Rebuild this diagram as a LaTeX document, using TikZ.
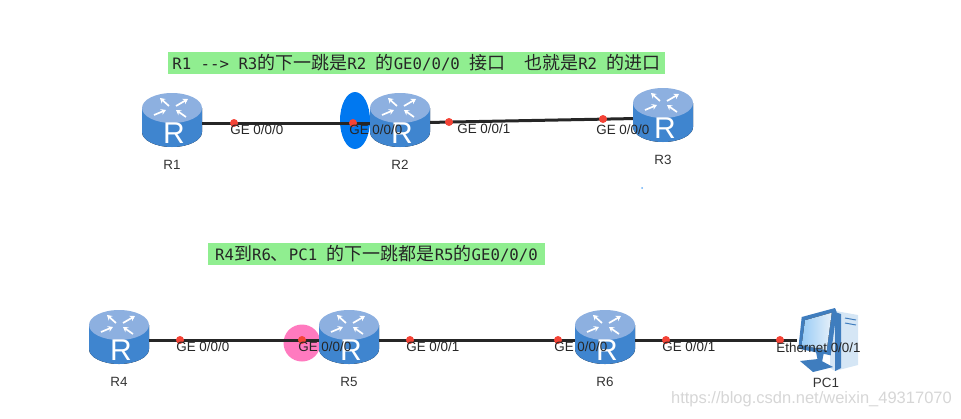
\documentclass[tikz,border=0pt]{standalone}
\usepackage{xcolor}
\usepackage{fontspec}
\setmainfont{Liberation Sans}
\setmonofont{DejaVu Sans Mono}
\newfontfamily\cjk{Noto Sans CJK SC}
\usetikzlibrary{positioning,arrows.meta,shapes.geometric}
\definecolor{barGreen}{HTML}{90EE90}
\definecolor{hopBlue}{HTML}{0078F0}
\definecolor{hopPink}{HTML}{FF7ABF}
\definecolor{portRed}{HTML}{F44336}
\definecolor{routerTop}{HTML}{8DB0E0}
\definecolor{routerSide}{HTML}{3F85CF}
\definecolor{routerMid}{HTML}{6DB6F2}
\definecolor{pcDark}{HTML}{3F7DBE}
\definecolor{pcLight}{HTML}{D5E6F5}
\newcommand{\zh}[1]{{\cjk\fontsize{18}{20}\selectfont #1}}

\begin{document}
\begin{tikzpicture}[
  x=1pt, y=-1pt,
  link/.style={line width=3pt, black!85},
  port/.style={circle, fill=portRed, minimum size=8pt, inner sep=0pt},
  portlabel/.style={font=\fontsize{13.4}{15}\selectfont, inner sep=0pt, text=black!85},
  devlabel/.style={font=\fontsize{13.4}{15}\selectfont, inner sep=0pt, text=black!80, node distance=7pt},
  notebar/.style={fill=barGreen, minimum height=22pt, inner sep=0pt, font=\ttfamily\fontsize{15.7}{16}\selectfont, text=black!85},
  routerarrow/.style={-{Stealth[length=5pt,width=6pt]}, white, line width=1.7pt},
  router/.pic={
    \node[minimum width=60pt, minimum height=60pt, inner sep=0pt] (-box) at (0,0) {};
    \fill[left color=routerSide, middle color=routerMid, right color=routerSide]
      (-30,-15) -- (-30,9) arc[start angle=180, end angle=0, x radius=30, y radius=15] -- (30,-15) -- cycle;
    \fill[routerTop] (0,-15) ellipse[x radius=30, y radius=15];
    \draw[routerarrow] (-3,-17) -- (-12,-25);
    \draw[routerarrow] (4,-17) -- (16,-24);
    \draw[routerarrow] (-18,-8) -- (-6,-13);
    \draw[routerarrow] (14,-6) -- (4,-13);
    \node[white, inner sep=0pt, font=\fontsize{30}{30}\selectfont] (-mark) at (2,10) {R};
  },
  pcicon/.pic={
    \node[minimum width=62pt, minimum height=64pt, inner sep=0pt] (-box) at (0,0) {};
    \fill[pcLight] (2,-30) -- (30,-25) -- (30,25) -- (7,31) -- (2,28) -- cycle;
    \fill[pcDark] (7,-28) -- (13,-26) -- (13,28) -- (7,31) -- cycle;
    \draw[pcDark, line width=1pt] (17,-22) -- (28,-20);
    \draw[pcDark, line width=1pt] (17,-17) -- (28,-15);
    \fill[pcDark] (-28,21) -- (-10,19) -- (5,27) -- (-15,32) -- cycle;
    \fill[pcDark] (-12,12) -- (-4,12) -- (-6,22) -- (-10,22) -- cycle;
    \fill[pcDark] (-26.3,-23) -- (7,-32) -- (8.7,-28) -- (2.7,15.3) -- (-29.7,8.7) -- cycle;
    \fill[left color=routerMid!70!white, right color=pcLight!60!white] (-23,-19.7) -- (3.7,-27.3) -- (-1.3,10.3) -- (-26.3,5.3) -- cycle;
  }
]
\useasboundingbox (0,0) rectangle (961,418);
\node[notebar, minimum width=497pt] (note1) at (416.5,63) {R1 --> R3\zh{的下一跳是}R2 \zh{的}GE0/0/0 \zh{接口}\ \ \zh{也就是}R2 \zh{的进口}};
\node[notebar, minimum width=337pt] (note2) at (376.5,254) {R4\zh{到}R6\zh{、}PC1 \zh{的下一跳都是}R5\zh{的}GE0/0/0};
\node[ellipse, fill=hopBlue, minimum width=30pt, minimum height=57pt, inner sep=0pt] (hop1) at (355,120.5) {};
\node[circle, fill=hopPink, minimum size=37pt, inner sep=0pt] (hop2) at (302,343) {};
\pic (r1) at (172,123) {router};
\pic (r2) at (400,123) {router};
\pic (r3) at (663,118) {router};
\pic (r4) at (119,340) {router};
\pic (r5) at (349,340) {router};
\pic (r6) at (605,340) {router};
\pic (pc1) at (828,340) {pcicon};
\node[devlabel, below=of r1-box] (r1name) {R1};
\node[devlabel, below=of r2-box] (r2name) {R2};
\node[devlabel, below=of r3-box] (r3name) {R3};
\node[devlabel, below=of r4-box] (r4name) {R4};
\node[devlabel, below=of r5-box] (r5name) {R5};
\node[devlabel, below=of r6-box] (r6name) {R6};
\node[devlabel, below=6pt of pc1-box, xshift=-2pt] (pc1name) {PC1};
\draw[link] (r1-box) -- (r2-box);
\draw[link] (r2-box) -- (r3-box);
\draw[link] (r4-box) -- (r5-box);
\draw[link] (r5-box) -- (r6-box);
\draw[link] (r6-box) -- (pc1-box);
\node[port] (p1) at (234,123) {};
\node[port] (p2) at (353,123) {};
\node[port] (p3) at (449,122) {};
\node[port] (p4) at (603,119) {};
\node[port] (p5) at (180,340) {};
\node[port] (p6) at (302,340) {};
\node[port] (p7) at (410,340) {};
\node[port] (p8) at (558,340) {};
\node[port] (p9) at (666,340) {};
\node[port] (p10) at (780,340) {};
\node[portlabel, right=-8pt of p1, yshift=-7pt] (l1) {GE 0/0/0};
\node[portlabel, right=-8pt of p2, yshift=-7pt] (l2) {GE 0/0/0};
\node[portlabel, right=4pt of p3, yshift=-7pt] (l3) {GE 0/0/1};
\node[portlabel, right=-11pt of p4, yshift=-11pt] (l4) {GE 0/0/0};
\node[portlabel, right=-8pt of p5, yshift=-7pt] (l5) {GE 0/0/0};
\node[portlabel, right=-8pt of p6, yshift=-7pt] (l6) {GE 0/0/0};
\node[portlabel, right=-8pt of p7, yshift=-7pt] (l7) {GE 0/0/1};
\node[portlabel, right=-8pt of p8, yshift=-7pt] (l8) {GE 0/0/0};
\node[portlabel, right=-8pt of p9, yshift=-7pt] (l9) {GE 0/0/1};
\node[portlabel, right=-8pt of p10, yshift=-8pt] (l10) {Ethernet 0/0/1};
\node[circle, fill=hopBlue!60, minimum size=2pt, inner sep=0pt] (speck) at (642,188) {};
\node[anchor=east, inner sep=0pt, text=black!16, font=\fontsize{16.5}{18}\selectfont] (mark) at (952,399) {https://blog.csdn.net/weixin\_49317070};
\end{tikzpicture}
\end{document}
